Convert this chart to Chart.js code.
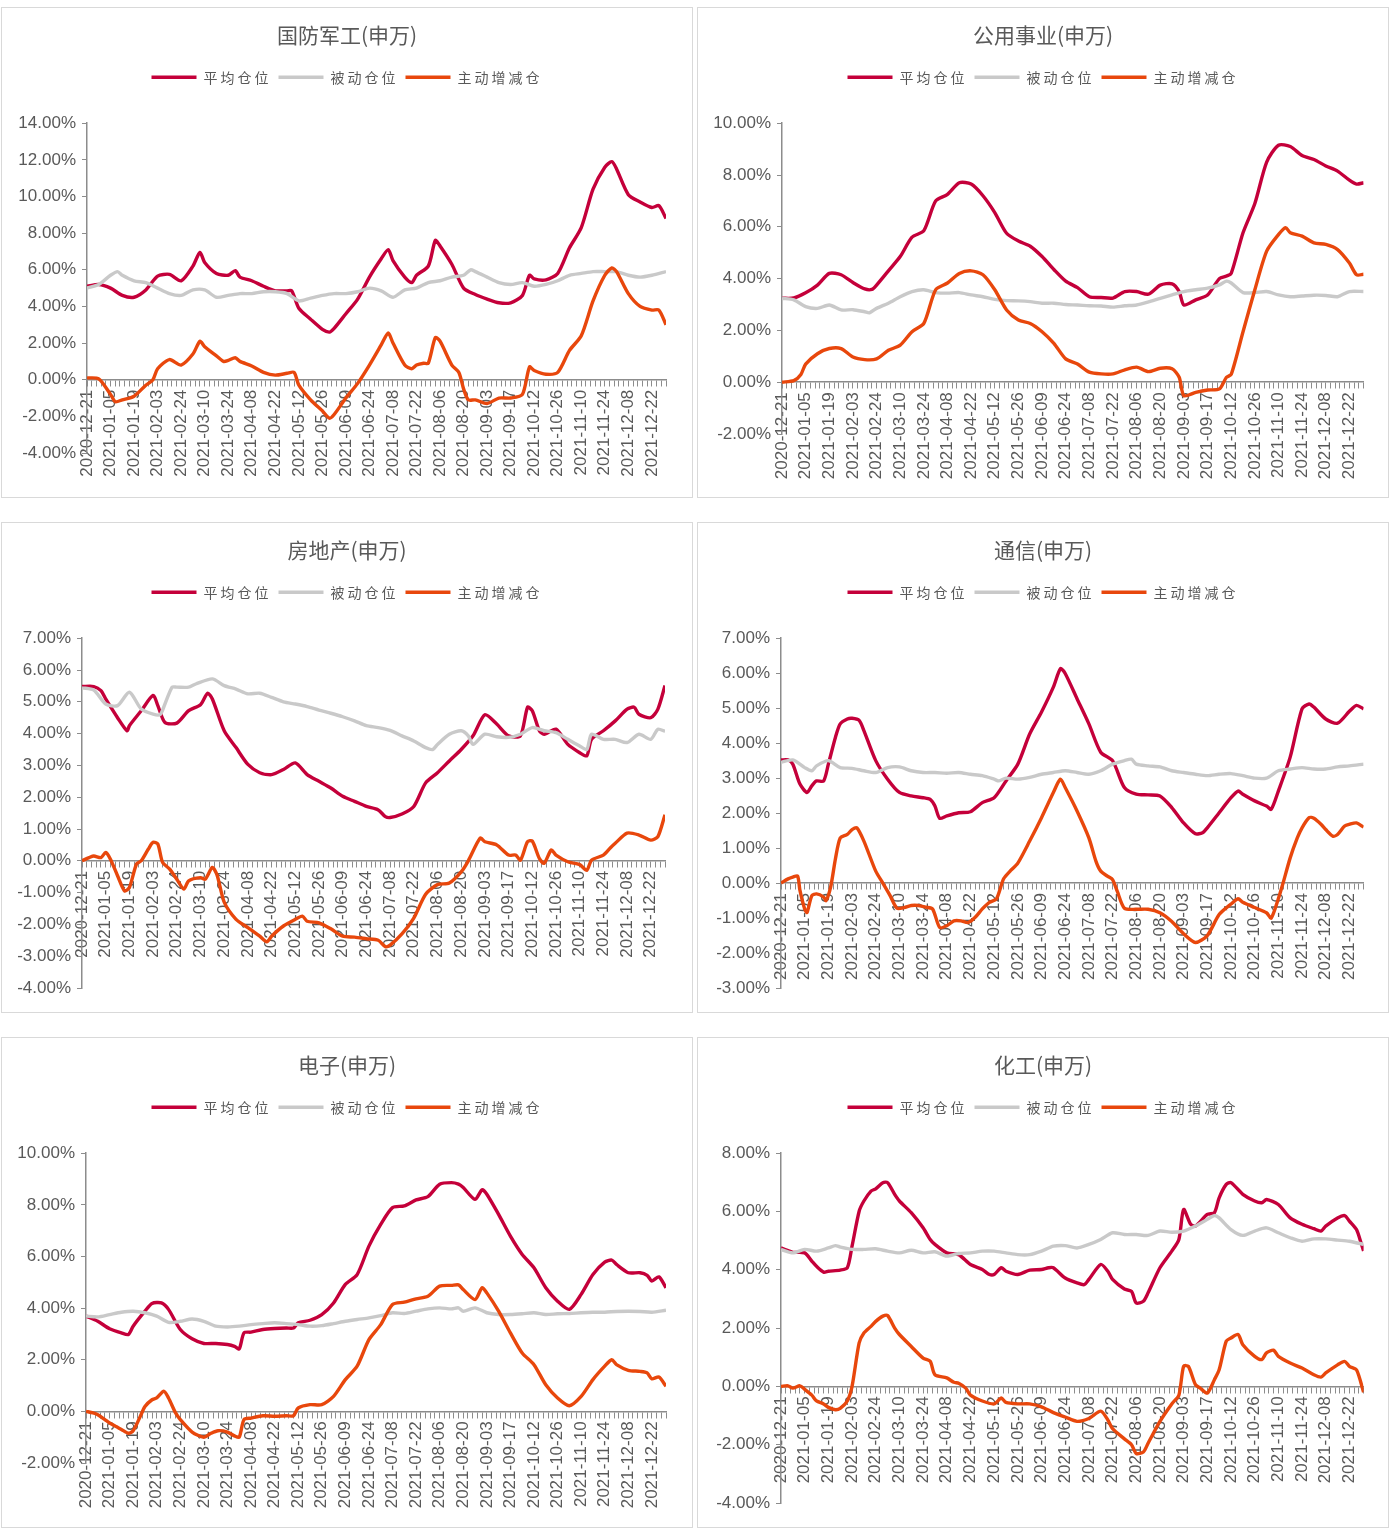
<!DOCTYPE html>
<html>
<head>
<meta charset="utf-8">
<title>行业仓位(申万)</title>
<script src="https://cdn.jsdelivr.net/npm/chart.js"></script>
<style>
    body {
        margin: 0;
        background: #fff;
    }
    .panel {
        position: absolute;
        width: 692px;
        height: 491px;
        box-sizing: border-box;
        border: 1px solid #d9d9d9;
        background: #fff;
    }
    .panel div {
        position: relative;
        width: 690px;
        height: 489px;
    }
</style>
</head>
<body>
<div class="panel" style="left:1px;top:7px"><div><canvas id="c0"></canvas></div></div>
<div class="panel" style="left:697px;top:7px"><div><canvas id="c1"></canvas></div></div>
<div class="panel" style="left:1px;top:522px"><div><canvas id="c2"></canvas></div></div>
<div class="panel" style="left:697px;top:522px"><div><canvas id="c3"></canvas></div></div>
<div class="panel" style="left:1px;top:1037px"><div><canvas id="c4"></canvas></div></div>
<div class="panel" style="left:697px;top:1037px"><div><canvas id="c5"></canvas></div></div>

<script>
    // x values are trading-day indices, one label every 10 days
    const tickDates = ['2020-12-21', '2021-01-05', '2021-01-19', '2021-02-03', '2021-02-24', '2021-03-10',
        '2021-03-24', '2021-04-08', '2021-04-22', '2021-05-12', '2021-05-26', '2021-06-09', '2021-06-24',
        '2021-07-08', '2021-07-22', '2021-08-06', '2021-08-20', '2021-09-03', '2021-09-17', '2021-10-12',
        '2021-10-26', '2021-11-10', '2021-11-24', '2021-12-08', '2021-12-22'];
    const lastDay = 246;

    const seriesNames = ['平均仓位', '被动仓位', '主动增减仓'];
    const panelTitles = ['国防军工(申万)', '公用事业(申万)', '房地产(申万)', '通信(申万)', '电子(申万)', '化工(申万)'];

    // 国防军工 (%)
    const defAvg = [[0,5.1],[5,5.2],[10,5.0],[15,4.6],[20,4.5],[25,4.9],[30,5.65],[35,5.75],[40,5.4],[45,6.2],[48,6.95],[50,6.4],[55,5.8],[60,5.7],[63,5.95],[65,5.6],[70,5.4],[75,5.1],[80,4.85],[85,4.85],[87,4.85],[90,3.9],[95,3.3],[100,2.75],[103,2.6],[105,2.8],[110,3.6],[115,4.4],[120,5.6],[125,6.6],[128,7.1],[130,6.5],[135,5.6],[138,5.3],[140,5.7],[145,6.2],[148,7.6],[150,7.3],[155,6.3],[160,5.0],[165,4.65],[170,4.4],[175,4.2],[180,4.2],[185,4.6],[188,5.7],[190,5.5],[195,5.45],[200,5.8],[205,7.2],[210,8.3],[215,10.4],[220,11.6],[223,11.9],[225,11.5],[230,10.1],[235,9.7],[240,9.4],[243,9.5],[246,8.8]];
    const defPassive = [[0,5.0],[5,5.2],[10,5.7],[13,5.9],[15,5.7],[20,5.4],[25,5.3],[30,5.0],[35,4.7],[40,4.6],[45,4.9],[50,4.9],[55,4.5],[60,4.6],[65,4.7],[70,4.7],[75,4.8],[80,4.8],[85,4.7],[90,4.3],[95,4.45],[100,4.6],[105,4.7],[110,4.7],[115,4.8],[120,5.0],[125,4.85],[130,4.5],[135,4.9],[140,5.0],[145,5.3],[150,5.4],[155,5.6],[160,5.7],[163,6.0],[165,5.9],[170,5.6],[175,5.3],[180,5.2],[185,5.3],[190,5.1],[195,5.2],[200,5.4],[205,5.7],[210,5.8],[215,5.9],[220,5.9],[225,5.9],[230,5.7],[235,5.6],[240,5.7],[246,5.9]];
    const defActive = [[0,0.1],[5,0.05],[10,-0.8],[12,-1.2],[15,-1.1],[20,-0.9],[25,-0.3],[28,0.0],[30,0.6],[35,1.1],[40,0.8],[45,1.4],[48,2.1],[50,1.8],[55,1.3],[58,1.0],[60,1.05],[63,1.2],[65,1.0],[70,0.75],[75,0.4],[80,0.25],[85,0.35],[88,0.4],[90,-0.3],[95,-1.1],[100,-1.7],[103,-2.1],[105,-1.9],[110,-1.0],[115,-0.2],[120,0.8],[125,1.9],[128,2.55],[130,2.0],[135,0.8],[138,0.6],[140,0.8],[143,0.9],[145,0.9],[148,2.3],[150,2.1],[155,0.8],[158,0.4],[160,-0.5],[162,-1.1],[165,-1.1],[170,-1.3],[175,-1.0],[180,-1.0],[185,-0.8],[188,0.7],[190,0.5],[195,0.3],[200,0.4],[205,1.6],[210,2.4],[215,4.3],[220,5.7],[223,6.1],[225,5.9],[230,4.7],[235,4.0],[240,3.8],[243,3.8],[246,3.0]];

    // 公用事业 (%)
    const utilAvg = [[0,3.24],[5,3.25],[10,3.45],[15,3.75],[20,4.2],[25,4.15],[30,3.85],[35,3.6],[38,3.58],[40,3.75],[45,4.3],[50,4.85],[55,5.6],[60,5.85],[65,7.0],[70,7.25],[75,7.7],[80,7.65],[85,7.2],[90,6.55],[95,5.75],[100,5.45],[105,5.25],[110,4.85],[115,4.35],[120,3.9],[125,3.65],[130,3.3],[135,3.27],[140,3.25],[145,3.5],[150,3.5],[155,3.4],[160,3.75],[165,3.8],[168,3.5],[170,2.98],[175,3.18],[180,3.37],[185,4.0],[188,4.1],[190,4.2],[195,5.77],[200,6.9],[205,8.5],[210,9.15],[215,9.1],[220,8.75],[225,8.6],[230,8.35],[235,8.15],[240,7.8],[243,7.65],[246,7.7]];
    const utilPassive = [[0,3.24],[5,3.18],[10,2.92],[15,2.85],[20,2.98],[25,2.79],[30,2.8],[35,2.72],[37,2.68],[40,2.85],[45,3.05],[50,3.3],[55,3.5],[60,3.57],[65,3.46],[70,3.44],[75,3.46],[80,3.37],[85,3.3],[90,3.2],[95,3.15],[100,3.14],[105,3.11],[110,3.05],[115,3.05],[120,3.0],[125,2.98],[130,2.95],[135,2.94],[140,2.9],[145,2.95],[150,2.98],[155,3.1],[160,3.24],[165,3.37],[170,3.5],[175,3.57],[180,3.63],[185,3.76],[188,3.9],[190,3.83],[195,3.46],[200,3.46],[205,3.5],[210,3.37],[215,3.3],[220,3.33],[225,3.36],[230,3.35],[235,3.3],[240,3.5],[246,3.5]];
    const utilActive = [[0,0.0],[5,0.06],[8,0.3],[10,0.7],[15,1.1],[20,1.3],[25,1.3],[30,0.97],[35,0.87],[40,0.9],[45,1.23],[50,1.43],[55,1.95],[60,2.27],[65,3.57],[70,3.83],[75,4.2],[80,4.3],[85,4.15],[90,3.57],[95,2.79],[100,2.4],[105,2.27],[110,1.95],[115,1.5],[120,0.9],[125,0.7],[130,0.39],[135,0.32],[140,0.32],[145,0.48],[150,0.58],[155,0.41],[160,0.54],[165,0.52],[168,0.19],[170,-0.52],[175,-0.39],[180,-0.3],[185,-0.26],[188,0.19],[190,0.3],[195,1.95],[200,3.57],[205,5.06],[210,5.7],[213,5.97],[215,5.77],[220,5.64],[225,5.38],[230,5.32],[235,5.12],[240,4.6],[243,4.15],[246,4.17]];

    // 房地产 (%)
    const reAvg = [[0,5.48],[5,5.48],[8,5.35],[10,5.09],[15,4.5],[19,4.09],[20,4.25],[25,4.72],[30,5.2],[32,4.88],[35,4.35],[40,4.33],[45,4.72],[50,4.91],[53,5.27],[55,5.09],[60,4.09],[65,3.56],[70,3.03],[75,2.77],[80,2.71],[85,2.87],[90,3.08],[95,2.71],[100,2.5],[105,2.29],[110,2.03],[115,1.87],[120,1.71],[125,1.6],[128,1.39],[130,1.36],[135,1.47],[140,1.71],[145,2.45],[150,2.77],[155,3.14],[160,3.5],[165,3.93],[170,4.59],[175,4.3],[180,3.93],[185,3.93],[188,4.83],[190,4.72],[193,4.09],[195,3.98],[200,4.14],[205,3.66],[210,3.4],[213,3.3],[215,3.82],[220,4.09],[225,4.4],[230,4.77],[233,4.83],[235,4.61],[240,4.5],[243,4.77],[246,5.51]];
    const rePassive = [[0,5.44],[5,5.37],[10,4.93],[15,4.88],[20,5.3],[25,4.77],[30,4.61],[33,4.6],[35,4.93],[38,5.46],[40,5.46],[45,5.46],[48,5.56],[55,5.72],[60,5.51],[65,5.4],[70,5.25],[75,5.27],[80,5.14],[85,5.0],[90,4.93],[95,4.85],[100,4.74],[105,4.64],[110,4.53],[115,4.4],[120,4.25],[125,4.19],[130,4.1],[135,3.93],[140,3.77],[145,3.56],[148,3.5],[150,3.66],[155,3.98],[160,4.09],[163,3.93],[165,3.66],[170,3.98],[175,3.9],[180,3.88],[185,3.98],[190,4.19],[195,4.09],[200,4.03],[205,3.82],[210,3.61],[213,3.5],[215,3.98],[220,3.82],[225,3.82],[230,3.72],[235,3.98],[240,3.82],[243,4.14],[246,4.07]];
    const reActive = [[0,0.0],[3,0.1],[5,0.15],[8,0.1],[10,0.26],[12,0.05],[15,-0.47],[18,-0.95],[20,-0.84],[23,-0.1],[25,0.0],[28,0.37],[30,0.58],[32,0.53],[34,-0.05],[37,-0.26],[40,-0.58],[43,-0.89],[45,-0.63],[50,-0.53],[52,-0.58],[55,-0.21],[57,-0.45],[60,-1.3],[65,-1.84],[70,-2.1],[75,-2.37],[78,-2.55],[80,-2.37],[85,-2.05],[90,-1.84],[93,-1.74],[95,-1.9],[100,-1.95],[105,-2.14],[110,-2.37],[115,-2.4],[120,-2.45],[125,-2.5],[128,-2.7],[130,-2.65],[135,-2.3],[140,-1.8],[145,-1.05],[150,-0.75],[155,-0.7],[160,-0.35],[163,0.0],[168,0.71],[170,0.6],[175,0.5],[180,0.18],[183,0.18],[185,0.02],[188,0.6],[190,0.62],[193,0.07],[195,-0.08],[198,0.34],[200,0.18],[205,-0.03],[210,-0.12],[213,-0.3],[215,0.02],[220,0.18],[223,0.41],[225,0.55],[230,0.87],[235,0.81],[240,0.65],[243,0.76],[246,1.45]];

    // 通信 (%)
    const telAvg = [[0,3.52],[3,3.52],[5,3.4],[8,2.83],[11,2.59],[13,2.78],[15,2.92],[18,2.92],[20,3.4],[23,4.17],[25,4.55],[28,4.69],[30,4.71],[33,4.65],[35,4.36],[40,3.5],[45,2.97],[50,2.59],[55,2.49],[60,2.44],[63,2.39],[65,2.2],[67,1.85],[70,1.92],[75,2.01],[80,2.04],[85,2.3],[90,2.44],[95,2.92],[100,3.4],[105,4.26],[110,4.89],[115,5.6],[118,6.13],[120,5.99],[125,5.27],[130,4.55],[135,3.74],[140,3.5],[145,2.73],[150,2.54],[155,2.52],[160,2.49],[165,2.16],[170,1.72],[175,1.41],[178,1.44],[180,1.58],[185,2.01],[190,2.44],[193,2.63],[195,2.54],[200,2.35],[205,2.2],[207,2.11],[210,2.63],[215,3.6],[220,4.98],[223,5.12],[225,5.03],[230,4.69],[235,4.57],[240,4.91],[243,5.08],[246,4.98]];
    const telPassive = [[0,3.45],[5,3.52],[10,3.3],[13,3.21],[15,3.35],[20,3.5],[25,3.3],[30,3.28],[35,3.21],[40,3.16],[45,3.3],[50,3.32],[55,3.21],[60,3.16],[65,3.16],[70,3.14],[75,3.16],[80,3.11],[85,3.07],[90,2.97],[92,2.92],[95,3.0],[100,2.97],[105,3.02],[110,3.11],[115,3.16],[120,3.21],[125,3.16],[130,3.11],[135,3.21],[140,3.4],[145,3.5],[148,3.54],[150,3.4],[155,3.35],[160,3.32],[165,3.21],[170,3.16],[175,3.11],[180,3.07],[185,3.11],[190,3.13],[195,3.07],[200,3.0],[205,3.0],[210,3.21],[215,3.26],[220,3.3],[225,3.26],[230,3.26],[235,3.32],[240,3.35],[246,3.4]];
    const telActive = [[0,0.0],[3,0.12],[5,0.17],[7,0.2],[8,-0.21],[10,-0.74],[11,-0.84],[13,-0.36],[15,-0.31],[18,-0.4],[19,-0.5],[21,-0.1],[23,0.7],[25,1.29],[28,1.39],[30,1.53],[32,1.58],[35,1.2],[40,0.34],[43,0.0],[46,-0.35],[49,-0.72],[52,-0.7],[55,-0.64],[58,-0.64],[61,-0.69],[64,-0.74],[67,-1.27],[70,-1.22],[73,-1.08],[76,-1.08],[79,-1.13],[82,-0.98],[85,-0.74],[88,-0.55],[91,-0.45],[94,0.12],[97,0.36],[100,0.57],[105,1.2],[110,1.87],[115,2.59],[118,2.97],[120,2.73],[125,2.06],[130,1.29],[133,0.62],[135,0.34],[138,0.19],[140,0.1],[142,-0.24],[145,-0.72],[150,-0.75],[155,-0.75],[160,-0.85],[165,-1.1],[170,-1.45],[175,-1.7],[180,-1.5],[185,-0.9],[190,-0.6],[193,-0.45],[195,-0.55],[200,-0.7],[205,-0.85],[207,-1.0],[210,-0.45],[212,0.0],[215,0.72],[218,1.29],[220,1.58],[223,1.87],[225,1.85],[228,1.68],[230,1.53],[233,1.34],[235,1.39],[238,1.63],[240,1.68],[243,1.72],[246,1.6]];

    // 电子 (%)
    const elecAvg = [[0,3.69],[5,3.49],[10,3.2],[15,3.04],[18,2.98],[20,3.3],[25,3.88],[28,4.18],[32,4.2],[35,3.95],[40,3.17],[45,2.81],[50,2.63],[55,2.63],[60,2.59],[63,2.52],[65,2.42],[67,3.04],[70,3.07],[75,3.17],[80,3.21],[85,3.23],[88,3.23],[90,3.43],[95,3.53],[100,3.75],[105,4.2],[110,4.92],[115,5.3],[120,6.4],[125,7.24],[130,7.89],[135,7.96],[140,8.19],[145,8.32],[150,8.8],[155,8.86],[158,8.8],[160,8.67],[165,8.21],[168,8.58],[170,8.41],[175,7.63],[180,6.79],[185,6.08],[190,5.56],[195,4.79],[200,4.27],[205,3.95],[210,4.53],[215,5.3],[220,5.78],[223,5.86],[225,5.69],[230,5.37],[235,5.37],[238,5.27],[240,5.05],[243,5.21],[246,4.79]];
    const elecPassive = [[0,3.69],[5,3.66],[10,3.75],[15,3.84],[20,3.88],[25,3.82],[30,3.69],[35,3.45],[40,3.49],[45,3.58],[50,3.49],[55,3.3],[60,3.27],[65,3.3],[70,3.36],[75,3.4],[80,3.43],[85,3.4],[90,3.36],[95,3.3],[100,3.32],[105,3.4],[110,3.49],[115,3.56],[120,3.62],[125,3.71],[130,3.82],[135,3.79],[140,3.88],[145,3.97],[150,4.01],[155,3.97],[158,4.01],[160,3.88],[165,4.01],[170,3.82],[175,3.75],[180,3.75],[185,3.78],[190,3.82],[195,3.75],[200,3.78],[205,3.79],[210,3.82],[215,3.84],[220,3.84],[225,3.87],[230,3.88],[235,3.87],[240,3.84],[246,3.92]];
    const elecActive = [[0,0.0],[3,-0.06],[5,-0.13],[8,-0.32],[10,-0.45],[13,-0.6],[15,-0.7],[18,-0.85],[20,-0.75],[23,-0.2],[25,0.19],[28,0.45],[30,0.52],[33,0.78],[35,0.52],[38,-0.06],[40,-0.32],[45,-0.8],[50,-1.0],[53,-0.85],[56,-0.75],[60,-0.8],[63,-0.95],[65,-1.0],[67,-0.32],[70,-0.26],[75,-0.17],[80,-0.19],[85,-0.17],[88,-0.17],[90,0.13],[95,0.26],[100,0.26],[105,0.58],[110,1.23],[115,1.75],[120,2.78],[125,3.36],[130,4.14],[135,4.23],[140,4.36],[145,4.46],[150,4.85],[155,4.88],[158,4.9],[160,4.72],[165,4.33],[168,4.79],[170,4.59],[175,3.88],[180,3.04],[185,2.26],[190,1.81],[195,1.03],[200,0.52],[205,0.22],[210,0.58],[215,1.23],[220,1.75],[223,2.0],[225,1.81],[230,1.59],[235,1.55],[238,1.49],[240,1.26],[243,1.33],[246,0.97]];

    // 化工 (%)
    const chemAvg = [[0,4.75],[3,4.66],[5,4.6],[10,4.58],[13,4.3],[15,4.12],[18,3.92],[20,3.95],[25,3.99],[28,4.07],[30,4.81],[33,6.01],[35,6.36],[38,6.7],[40,6.78],[43,6.99],[45,6.99],[48,6.59],[50,6.36],[55,5.96],[60,5.44],[63,5.04],[65,4.87],[70,4.58],[75,4.52],[80,4.18],[85,4.01],[88,3.84],[90,3.84],[93,4.07],[95,3.95],[100,3.84],[105,3.99],[110,4.01],[113,4.07],[115,4.07],[120,3.72],[125,3.55],[128,3.49],[130,3.67],[135,4.18],[138,3.95],[140,3.67],[145,3.34],[148,3.26],[150,2.86],[153,2.92],[155,3.21],[160,4.07],[165,4.64],[168,5.04],[170,6.07],[173,5.56],[175,5.5],[180,5.9],[183,5.96],[185,6.47],[188,6.93],[190,6.99],[195,6.59],[200,6.36],[203,6.3],[205,6.41],[210,6.24],[215,5.78],[220,5.56],[225,5.41],[228,5.33],[230,5.5],[235,5.78],[238,5.86],[240,5.67],[243,5.38],[245,4.9],[246,4.65]];
    const chemPassive = [[0,4.7],[5,4.58],[10,4.7],[15,4.64],[20,4.75],[23,4.83],[25,4.78],[30,4.7],[35,4.7],[40,4.72],[45,4.64],[50,4.58],[55,4.67],[60,4.58],[65,4.62],[70,4.47],[75,4.56],[80,4.58],[85,4.64],[90,4.64],[95,4.58],[100,4.52],[105,4.52],[110,4.64],[115,4.81],[120,4.83],[125,4.75],[130,4.87],[135,5.04],[140,5.27],[145,5.21],[150,5.21],[155,5.18],[160,5.33],[165,5.29],[170,5.33],[175,5.5],[180,5.73],[183,5.86],[185,5.78],[190,5.38],[195,5.18],[200,5.33],[205,5.44],[210,5.27],[215,5.1],[220,4.98],[225,5.06],[230,5.06],[235,5.02],[240,4.98],[246,4.87]];
    const chemActive = [[0,0.0],[3,0.02],[5,-0.06],[8,0.02],[10,-0.1],[13,-0.3],[15,-0.5],[18,-0.6],[20,-0.72],[23,-0.8],[25,-0.75],[28,-0.5],[30,0.0],[33,1.49],[35,1.83],[38,2.06],[40,2.23],[43,2.41],[45,2.43],[48,2.0],[50,1.78],[55,1.37],[60,0.97],[63,0.86],[65,0.4],[70,0.29],[73,0.14],[75,0.11],[78,-0.06],[80,-0.3],[85,-0.5],[90,-0.6],[93,-0.4],[95,-0.55],[100,-0.6],[105,-0.6],[110,-0.7],[115,-0.9],[120,-1.05],[125,-1.2],[130,-1.1],[135,-0.85],[138,-1.15],[140,-1.45],[145,-1.8],[148,-2.0],[150,-2.3],[153,-2.25],[155,-1.95],[160,-1.2],[165,-0.6],[168,-0.3],[170,0.69],[172,0.69],[175,0.06],[177,-0.06],[180,-0.23],[183,0.23],[185,0.57],[188,1.55],[190,1.66],[193,1.78],[195,1.43],[200,1.03],[203,0.92],[205,1.15],[208,1.24],[210,1.03],[215,0.8],[220,0.63],[225,0.4],[228,0.32],[230,0.46],[235,0.74],[238,0.86],[240,0.69],[243,0.57],[246,-0.2]];

    const lineColors = ['#C4003A', '#C9C9C9', '#E8470C'];
    const numFont = "'Liberation Sans', Arial, sans-serif";
    const cjkFont = "'Noto Sans CJK SC', 'Noto Sans', sans-serif";
    const axisColor = '#8c8c8c';
    const textColor = '#595959';

    const panels = [
        { id: 'c0', series: [defAvg, defPassive, defActive], yMin: -4, yMax: 14, yStep: 2, left: 85, right: 26, bottom: 44 },
        { id: 'c1', series: [utilAvg, utilPassive, utilActive], yMin: -2, yMax: 10, yStep: 2, left: 84, right: 22, bottom: 63 },
        { id: 'c2', series: [reAvg, rePassive, reActive], yMin: -4, yMax: 7, yStep: 1, left: 80, right: 27, bottom: 24 },
        { id: 'c3', series: [telAvg, telPassive, telActive], yMin: -3, yMax: 7, yStep: 1, left: 83, right: 23, bottom: 24 },
        { id: 'c4', series: [elecAvg, elecPassive, elecActive], yMin: -2, yMax: 10, yStep: 2, left: 84, right: 26, bottom: 64 },
        { id: 'c5', series: [chemAvg, chemPassive, chemActive], yMin: -4, yMax: 8, yStep: 2, left: 83, right: 22, bottom: 24 }
    ];

    // legend text in the original is widely spaced; also pin the legend height
    const legendSpacing = {
        id: 'legendSpacing',
        beforeLayout(chart) {
            const lg = chart.legend;
            if (!lg || lg._spaced) return;
            lg._spaced = true;
            const fit = lg.fit;
            const draw = lg.draw;
            lg.fit = function () {
                this.ctx.save();
                this.ctx.letterSpacing = '3px';
                fit.call(this);
                this.ctx.restore();
                this.height = 60;
            };
            lg.draw = function () {
                this.ctx.save();
                this.ctx.letterSpacing = '3px';
                draw.call(this);
                this.ctx.restore();
            };
        }
    };

    panels.forEach((p, n) => {
        new Chart(document.getElementById(p.id), {
            type: 'line',
            data: {
                datasets: seriesNames.map((name, k) => ({
                    label: name,
                    data: p.series[k],
                    borderColor: lineColors[k],
                    backgroundColor: lineColors[k],
                    borderWidth: 3.4,
                    pointRadius: 0,
                    tension: 0.25,
                    order: 3 - k
                }))
            },
            options: {
                responsive: true,
                maintainAspectRatio: false,
                animation: false,
                layout: { padding: { left: 0, top: 0, right: 0, bottom: p.bottom } },
                plugins: {
                    title: {
                        display: true,
                        text: panelTitles[n],
                        color: textColor,
                        font: { family: cjkFont, size: 21, weight: 'normal' },
                        padding: { top: 14, bottom: 16 }
                    },
                    legend: {
                        labels: {
                            usePointStyle: true,
                            pointStyle: 'line',
                            pointStyleWidth: 45,
                            color: textColor,
                            font: { family: cjkFont, size: 14 },
                            padding: 7,
                            sort: (a, b) => a.datasetIndex - b.datasetIndex
                        }
                    },
                    tooltip: { enabled: false }
                },
                scales: {
                    x: {
                        type: 'linear',
                        position: { y: 0 },
                        min: 0,
                        max: lastDay,
                        grid: { drawOnChartArea: false, drawTicks: true, tickLength: 6, color: axisColor },
                        border: { color: axisColor, width: 1.5 },
                        ticks: {
                            stepSize: 2,
                            autoSkip: false,
                            maxRotation: 90,
                            minRotation: 90,
                            padding: 4,
                            color: textColor,
                            font: { family: numFont, size: 17 },
                            callback: v => {
                                const i = Math.round(v);
                                return i % 10 === 0 ? tickDates[i / 10] : '';
                            }
                        }
                    },
                    y: {
                        min: p.yMin,
                        max: p.yMax,
                        grid: { drawOnChartArea: false, drawTicks: true, tickLength: 5, color: axisColor },
                        border: { color: axisColor, width: 1.5 },
                        ticks: {
                            stepSize: p.yStep,
                            padding: 6,
                            color: textColor,
                            font: { family: numFont, size: 17 },
                            callback: v => v.toFixed(2) + '%'
                        },
                        afterFit: s => { s.width = p.left; }
                    },
                    // empty right-hand spacer so title and legend stay centred on the panel
                    spacer: {
                        type: 'linear',
                        axis: 'y',
                        position: 'right',
                        display: true,
                        grid: { display: false },
                        border: { display: false },
                        ticks: { display: false },
                        afterFit: s => { s.width = p.right; }
                    }
                }
            },
            plugins: [legendSpacing]
        });
    });
</script>
</body>
</html>
